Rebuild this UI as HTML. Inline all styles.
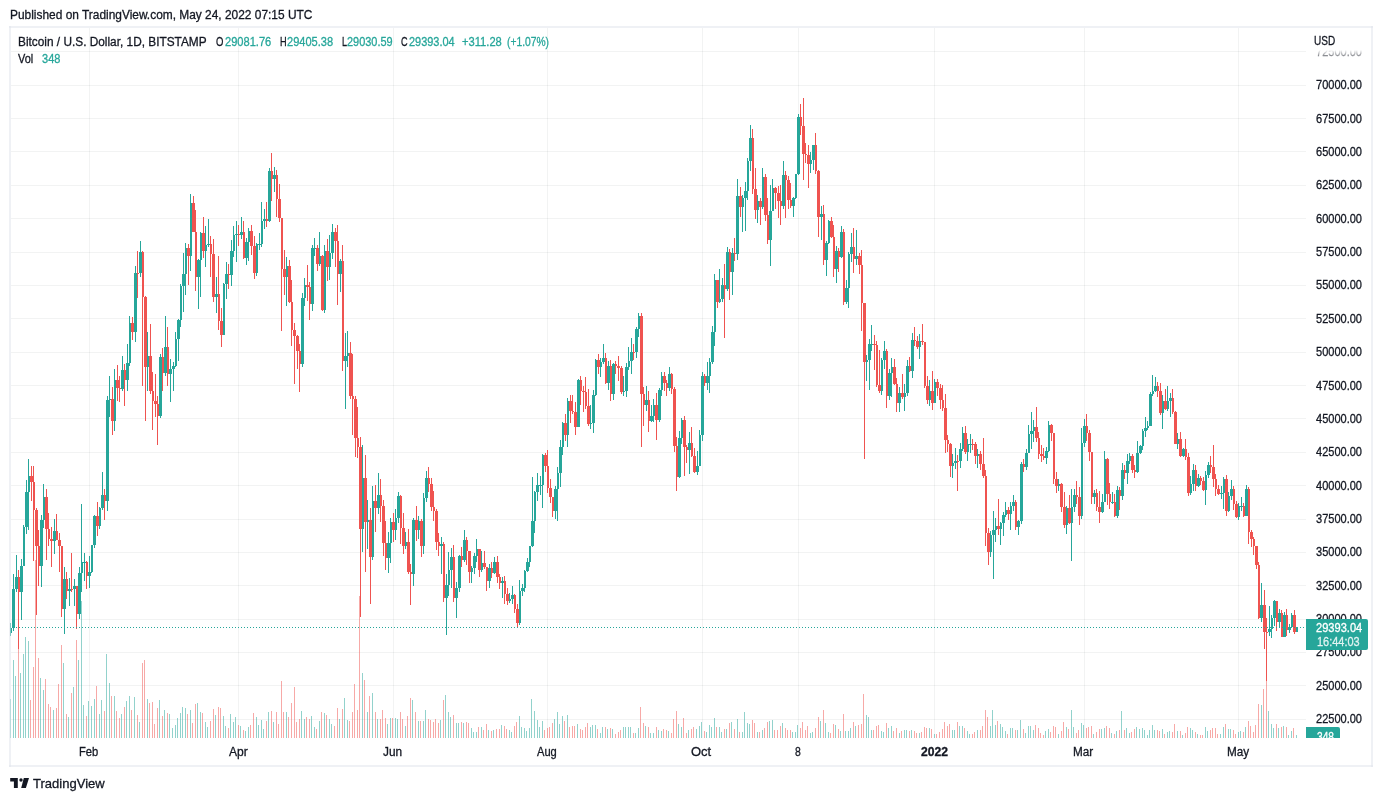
<!DOCTYPE html><html lang="en"><head><meta charset="utf-8"><title>BTCUSD chart</title><style>
html,body{margin:0;padding:0;background:#fff}
body{width:1382px;height:801px;position:relative;overflow:hidden;font-family:"Liberation Sans",sans-serif;color:#131722}
.t{position:absolute;white-space:pre;line-height:1;transform-origin:0 0;-webkit-text-stroke:0.3px currentColor}
.box{position:absolute;background:#26a69a;overflow:hidden}
</style></head><body>
<svg width="1382" height="801" viewBox="0 0 1382 801" shape-rendering="crispEdges" style="position:absolute;left:0;top:0">
<g fill="#2a3a34" fill-opacity="0.06">
<rect x="11" y="719" width="1295" height="1"/>
<rect x="11" y="685" width="1295" height="1"/>
<rect x="11" y="652" width="1295" height="1"/>
<rect x="11" y="619" width="1295" height="1"/>
<rect x="11" y="585" width="1295" height="1"/>
<rect x="11" y="552" width="1295" height="1"/>
<rect x="11" y="519" width="1295" height="1"/>
<rect x="11" y="485" width="1295" height="1"/>
<rect x="11" y="452" width="1295" height="1"/>
<rect x="11" y="418" width="1295" height="1"/>
<rect x="11" y="385" width="1295" height="1"/>
<rect x="11" y="352" width="1295" height="1"/>
<rect x="11" y="318" width="1295" height="1"/>
<rect x="11" y="285" width="1295" height="1"/>
<rect x="11" y="252" width="1295" height="1"/>
<rect x="11" y="218" width="1295" height="1"/>
<rect x="11" y="185" width="1295" height="1"/>
<rect x="11" y="151" width="1295" height="1"/>
<rect x="11" y="118" width="1295" height="1"/>
<rect x="11" y="85" width="1295" height="1"/>
<rect x="11" y="51" width="1295" height="1"/>
<rect x="89" y="28" width="1" height="710"/>
<rect x="238" y="28" width="1" height="710"/>
<rect x="393" y="28" width="1" height="710"/>
<rect x="547" y="28" width="1" height="710"/>
<rect x="702" y="28" width="1" height="710"/>
<rect x="798" y="28" width="1" height="710"/>
<rect x="934" y="28" width="1" height="710"/>
<rect x="1084" y="28" width="1" height="710"/>
<rect x="1238" y="28" width="1" height="710"/>
</g>
<clipPath id="cp"><rect x="10" y="28" width="1296" height="710"/></clipPath>
<g clip-path="url(#cp)">
<path fill="#26a69a" fill-opacity="0.5" d="M10 699h1V738h-1zM13 660h1V738h-1zM15 676h1V738h-1zM20 673h1V738h-1zM23 654h1V738h-1zM25 637h1V738h-1zM28 641h1V738h-1zM40 678h1V738h-1zM43 690h1V738h-1zM53 710h1V738h-1zM63 663h1V738h-1zM68 717h1V738h-1zM73 687h1V738h-1zM78 660h1V738h-1zM81 601h1V738h-1zM83 705h1V738h-1zM88 701h1V738h-1zM91 706h1V738h-1zM94 699h1V738h-1zM99 714h1V738h-1zM101 700h1V738h-1zM106 654h1V738h-1zM109 683h1V738h-1zM114 696h1V738h-1zM121 714h1V738h-1zM126 701h1V738h-1zM129 696h1V738h-1zM134 697h1V738h-1zM139 722h1V738h-1zM147 699h1V738h-1zM159 700h1V738h-1zM164 710h1V738h-1zM169 714h1V738h-1zM172 728h1V738h-1zM175 725h1V738h-1zM177 718h1V738h-1zM180 713h1V738h-1zM182 707h1V738h-1zM185 708h1V738h-1zM190 710h1V738h-1zM197 703h1V738h-1zM200 712h1V738h-1zM205 722h1V738h-1zM207 727h1V738h-1zM215 715h1V738h-1zM223 716h1V738h-1zM225 726h1V738h-1zM230 714h1V738h-1zM233 722h1V738h-1zM235 717h1V738h-1zM240 726h1V738h-1zM245 731h1V738h-1zM248 727h1V738h-1zM256 717h1V738h-1zM258 725h1V738h-1zM261 720h1V738h-1zM263 729h1V738h-1zM268 712h1V738h-1zM273 722h1V738h-1zM286 712h1V738h-1zM301 711h1V738h-1zM304 719h1V738h-1zM311 716h1V738h-1zM314 727h1V738h-1zM319 721h1V738h-1zM324 713h1V738h-1zM329 719h1V738h-1zM331 724h1V738h-1zM339 719h1V738h-1zM344 698h1V738h-1zM347 720h1V738h-1zM362 673h1V738h-1zM367 712h1V738h-1zM372 693h1V738h-1zM377 719h1V738h-1zM387 724h1V738h-1zM390 718h1V738h-1zM395 718h1V738h-1zM397 719h1V738h-1zM405 726h1V738h-1zM412 700h1V738h-1zM418 721h1V738h-1zM423 721h1V738h-1zM425 710h1V738h-1zM440 720h1V738h-1zM445 695h1V738h-1zM448 712h1V738h-1zM450 717h1V738h-1zM456 723h1V738h-1zM458 723h1V738h-1zM463 723h1V738h-1zM471 728h1V738h-1zM473 732h1V738h-1zM476 732h1V738h-1zM481 727h1V738h-1zM488 730h1V738h-1zM493 730h1V738h-1zM501 725h1V738h-1zM509 730h1V738h-1zM511 732h1V738h-1zM519 716h1V738h-1zM521 727h1V738h-1zM524 728h1V738h-1zM526 731h1V738h-1zM529 728h1V738h-1zM531 699h1V738h-1zM534 711h1V738h-1zM537 720h1V738h-1zM539 727h1V738h-1zM542 721h1V738h-1zM554 719h1V738h-1zM557 712h1V738h-1zM559 724h1V738h-1zM562 716h1V738h-1zM567 715h1V738h-1zM577 724h1V738h-1zM590 727h1V738h-1zM592 725h1V738h-1zM595 725h1V738h-1zM600 733h1V738h-1zM602 727h1V738h-1zM607 729h1V738h-1zM612 729h1V738h-1zM623 727h1V738h-1zM625 727h1V738h-1zM628 727h1V738h-1zM630 727h1V738h-1zM635 733h1V738h-1zM638 728h1V738h-1zM645 726h1V738h-1zM650 733h1V738h-1zM653 733h1V738h-1zM658 730h1V738h-1zM661 731h1V738h-1zM668 731h1V738h-1zM678 724h1V738h-1zM681 727h1V738h-1zM688 730h1V738h-1zM696 729h1V738h-1zM699 726h1V738h-1zM701 722h1V738h-1zM706 732h1V738h-1zM709 725h1V738h-1zM711 727h1V738h-1zM714 718h1V738h-1zM719 727h1V738h-1zM721 732h1V738h-1zM726 729h1V738h-1zM731 722h1V738h-1zM737 719h1V738h-1zM742 732h1V738h-1zM744 712h1V738h-1zM747 723h1V738h-1zM749 724h1V738h-1zM757 732h1V738h-1zM762 730h1V738h-1zM769 721h1V738h-1zM772 720h1V738h-1zM782 723h1V738h-1zM792 732h1V738h-1zM795 732h1V738h-1zM797 725h1V738h-1zM810 733h1V738h-1zM812 732h1V738h-1zM820 721h1V738h-1zM825 723h1V738h-1zM828 732h1V738h-1zM835 725h1V738h-1zM840 731h1V738h-1zM845 731h1V738h-1zM848 731h1V738h-1zM850 728h1V738h-1zM855 726h1V738h-1zM866 715h1V738h-1zM868 717h1V738h-1zM871 730h1V738h-1zM881 731h1V738h-1zM883 732h1V738h-1zM888 728h1V738h-1zM891 726h1V738h-1zM899 733h1V738h-1zM904 730h1V738h-1zM906 730h1V738h-1zM911 730h1V738h-1zM919 733h1V738h-1zM929 728h1V738h-1zM934 734h1V738h-1zM952 730h1V738h-1zM954 730h1V738h-1zM959 726h1V738h-1zM962 726h1V738h-1zM967 731h1V738h-1zM969 734h1V738h-1zM977 730h1V738h-1zM990 726h1V738h-1zM992 710h1V738h-1zM995 725h1V738h-1zM1000 724h1V738h-1zM1002 727h1V738h-1zM1005 731h1V738h-1zM1010 728h1V738h-1zM1012 728h1V738h-1zM1017 730h1V738h-1zM1020 720h1V738h-1zM1025 733h1V738h-1zM1028 726h1V738h-1zM1030 726h1V738h-1zM1033 730h1V738h-1zM1045 731h1V738h-1zM1048 729h1V738h-1zM1058 734h1V738h-1zM1066 727h1V738h-1zM1071 710h1V738h-1zM1073 727h1V738h-1zM1081 723h1V738h-1zM1083 725h1V738h-1zM1093 734h1V738h-1zM1101 729h1V738h-1zM1104 728h1V738h-1zM1111 733h1V738h-1zM1116 731h1V738h-1zM1121 711h1V738h-1zM1126 728h1V738h-1zM1129 733h1V738h-1zM1136 727h1V738h-1zM1139 729h1V738h-1zM1142 728h1V738h-1zM1144 730h1V738h-1zM1147 735h1V738h-1zM1149 730h1V738h-1zM1152 725h1V738h-1zM1154 730h1V738h-1zM1162 729h1V738h-1zM1167 732h1V738h-1zM1169 731h1V738h-1zM1177 731h1V738h-1zM1182 735h1V738h-1zM1190 728h1V738h-1zM1192 730h1V738h-1zM1197 734h1V738h-1zM1205 727h1V738h-1zM1207 731h1V738h-1zM1220 734h1V738h-1zM1223 727h1V738h-1zM1228 729h1V738h-1zM1230 729h1V738h-1zM1238 732h1V738h-1zM1240 731h1V738h-1zM1245 727h1V738h-1zM1261 705h1V738h-1zM1268 711h1V738h-1zM1271 724h1V738h-1zM1273 728h1V738h-1zM1278 728h1V738h-1zM1283 726h1V738h-1zM1288 735h1V738h-1zM1291 731h1V738h-1zM1296 735h1V738h-1z"/>
<path fill="#ef5350" fill-opacity="0.5" d="M18 644h1V738h-1zM30 700h1V738h-1zM33 667h1V738h-1zM35 560h1V738h-1zM38 658h1V738h-1zM45 679h1V738h-1zM48 704h1V738h-1zM50 707h1V738h-1zM56 708h1V738h-1zM58 684h1V738h-1zM61 645h1V738h-1zM66 714h1V738h-1zM71 693h1V738h-1zM76 640h1V738h-1zM86 716h1V738h-1zM96 686h1V738h-1zM104 711h1V738h-1zM111 696h1V738h-1zM116 711h1V738h-1zM119 718h1V738h-1zM124 707h1V738h-1zM131 710h1V738h-1zM137 715h1V738h-1zM142 663h1V738h-1zM144 660h1V738h-1zM149 703h1V738h-1zM152 702h1V738h-1zM154 724h1V738h-1zM157 708h1V738h-1zM162 716h1V738h-1zM167 713h1V738h-1zM187 714h1V738h-1zM192 723h1V738h-1zM195 704h1V738h-1zM202 713h1V738h-1zM210 721h1V738h-1zM213 709h1V738h-1zM218 707h1V738h-1zM220 708h1V738h-1zM228 728h1V738h-1zM238 725h1V738h-1zM243 730h1V738h-1zM250 725h1V738h-1zM253 713h1V738h-1zM266 721h1V738h-1zM271 711h1V738h-1zM276 712h1V738h-1zM278 724h1V738h-1zM281 681h1V738h-1zM283 712h1V738h-1zM288 717h1V738h-1zM291 703h1V738h-1zM294 687h1V738h-1zM296 722h1V738h-1zM299 719h1V738h-1zM306 717h1V738h-1zM309 719h1V738h-1zM316 729h1V738h-1zM321 712h1V738h-1zM326 715h1V738h-1zM334 726h1V738h-1zM337 708h1V738h-1zM342 709h1V738h-1zM349 721h1V738h-1zM352 712h1V738h-1zM354 684h1V738h-1zM357 710h1V738h-1zM359 596h1V738h-1zM364 680h1V738h-1zM369 696h1V738h-1zM375 712h1V738h-1zM380 719h1V738h-1zM382 710h1V738h-1zM385 718h1V738h-1zM392 718h1V738h-1zM400 712h1V738h-1zM402 719h1V738h-1zM407 716h1V738h-1zM410 698h1V738h-1zM415 712h1V738h-1zM420 721h1V738h-1zM428 719h1V738h-1zM430 720h1V738h-1zM433 722h1V738h-1zM435 719h1V738h-1zM438 723h1V738h-1zM443 700h1V738h-1zM453 715h1V738h-1zM461 722h1V738h-1zM466 722h1V738h-1zM468 723h1V738h-1zM478 727h1V738h-1zM483 730h1V738h-1zM486 724h1V738h-1zM491 731h1V738h-1zM496 729h1V738h-1zM499 729h1V738h-1zM504 726h1V738h-1zM506 729h1V738h-1zM514 726h1V738h-1zM516 722h1V738h-1zM544 730h1V738h-1zM547 728h1V738h-1zM549 727h1V738h-1zM552 723h1V738h-1zM564 721h1V738h-1zM569 727h1V738h-1zM572 726h1V738h-1zM574 726h1V738h-1zM580 729h1V738h-1zM582 730h1V738h-1zM585 727h1V738h-1zM587 723h1V738h-1zM597 729h1V738h-1zM605 727h1V738h-1zM610 728h1V738h-1zM615 734h1V738h-1zM618 732h1V738h-1zM620 730h1V738h-1zM633 733h1V738h-1zM640 707h1V738h-1zM643 723h1V738h-1zM648 727h1V738h-1zM656 727h1V738h-1zM663 729h1V738h-1zM666 730h1V738h-1zM671 733h1V738h-1zM673 719h1V738h-1zM676 711h1V738h-1zM683 718h1V738h-1zM686 733h1V738h-1zM691 729h1V738h-1zM693 727h1V738h-1zM704 731h1V738h-1zM716 727h1V738h-1zM724 729h1V738h-1zM729 723h1V738h-1zM734 729h1V738h-1zM739 732h1V738h-1zM752 720h1V738h-1zM754 723h1V738h-1zM759 732h1V738h-1zM764 728h1V738h-1zM767 722h1V738h-1zM774 730h1V738h-1zM777 730h1V738h-1zM780 726h1V738h-1zM785 728h1V738h-1zM787 730h1V738h-1zM790 730h1V738h-1zM800 728h1V738h-1zM802 722h1V738h-1zM805 730h1V738h-1zM807 726h1V738h-1zM815 728h1V738h-1zM818 717h1V738h-1zM823 710h1V738h-1zM830 733h1V738h-1zM833 724h1V738h-1zM838 729h1V738h-1zM843 714h1V738h-1zM853 722h1V738h-1zM858 725h1V738h-1zM861 724h1V738h-1zM863 694h1V738h-1zM873 730h1V738h-1zM876 726h1V738h-1zM878 725h1V738h-1zM886 723h1V738h-1zM893 731h1V738h-1zM896 728h1V738h-1zM901 731h1V738h-1zM909 731h1V738h-1zM914 731h1V738h-1zM916 733h1V738h-1zM921 732h1V738h-1zM924 727h1V738h-1zM926 728h1V738h-1zM931 729h1V738h-1zM936 734h1V738h-1zM939 732h1V738h-1zM942 729h1V738h-1zM944 722h1V738h-1zM947 726h1V738h-1zM949 724h1V738h-1zM957 722h1V738h-1zM964 728h1V738h-1zM972 734h1V738h-1zM974 732h1V738h-1zM980 730h1V738h-1zM982 726h1V738h-1zM985 710h1V738h-1zM987 717h1V738h-1zM997 721h1V738h-1zM1007 734h1V738h-1zM1015 730h1V738h-1zM1023 729h1V738h-1zM1035 725h1V738h-1zM1038 728h1V738h-1zM1040 733h1V738h-1zM1043 735h1V738h-1zM1050 732h1V738h-1zM1053 726h1V738h-1zM1055 727h1V738h-1zM1061 731h1V738h-1zM1063 722h1V738h-1zM1068 729h1V738h-1zM1076 733h1V738h-1zM1078 730h1V738h-1zM1086 728h1V738h-1zM1088 727h1V738h-1zM1091 726h1V738h-1zM1096 732h1V738h-1zM1099 729h1V738h-1zM1106 726h1V738h-1zM1109 728h1V738h-1zM1114 734h1V738h-1zM1119 730h1V738h-1zM1124 730h1V738h-1zM1131 732h1V738h-1zM1134 729h1V738h-1zM1157 730h1V738h-1zM1159 731h1V738h-1zM1164 734h1V738h-1zM1172 732h1V738h-1zM1174 724h1V738h-1zM1180 731h1V738h-1zM1185 733h1V738h-1zM1187 727h1V738h-1zM1195 732h1V738h-1zM1200 735h1V738h-1zM1202 735h1V738h-1zM1210 730h1V738h-1zM1212 728h1V738h-1zM1215 728h1V738h-1zM1217 734h1V738h-1zM1225 724h1V738h-1zM1233 730h1V738h-1zM1235 734h1V738h-1zM1243 732h1V738h-1zM1248 721h1V738h-1zM1250 726h1V738h-1zM1253 732h1V738h-1zM1255 725h1V738h-1zM1258 704h1V738h-1zM1263 689h1V738h-1zM1266 672h1V738h-1zM1276 724h1V738h-1zM1281 727h1V738h-1zM1286 727h1V738h-1zM1293 728h1V738h-1z"/>
<path fill="#26a69a" d="M10 623h1V636h-1zM13 574h1V631h-1zM16 555h1V592h-1zM21 559h1V620h-1zM23 525h1V566h-1zM26 480h1V534h-1zM28 459h1V530h-1zM41 515h1V587h-1zM43 484h1V528h-1zM54 519h1V554h-1zM64 567h1V634h-1zM69 578h1V606h-1zM74 579h1V606h-1zM79 567h1V619h-1zM81 504h1V592h-1zM84 553h1V581h-1zM89 556h1V588h-1zM91 545h1V573h-1zM94 515h1V548h-1zM99 507h1V529h-1zM102 472h1V510h-1zM107 396h1V511h-1zM109 376h1V417h-1zM114 369h1V431h-1zM122 356h1V391h-1zM127 344h1V391h-1zM129 316h1V366h-1zM135 266h1V342h-1zM140 241h1V277h-1zM147 332h1V391h-1zM160 354h1V418h-1zM165 316h1V376h-1zM170 359h1V402h-1zM173 362h1V391h-1zM175 332h1V367h-1zM178 319h1V361h-1zM180 284h1V327h-1zM183 253h1V312h-1zM185 243h1V295h-1zM190 194h1V271h-1zM198 259h1V309h-1zM200 232h1V297h-1zM205 226h1V267h-1zM208 219h1V247h-1zM216 277h1V313h-1zM223 283h1V335h-1zM226 262h1V299h-1zM231 240h1V286h-1zM233 226h1V257h-1zM236 221h1V262h-1zM241 217h1V239h-1zM246 238h1V265h-1zM248 228h1V261h-1zM256 243h1V276h-1zM259 233h1V250h-1zM261 202h1V247h-1zM264 209h1V229h-1zM269 168h1V222h-1zM274 167h1V192h-1zM286 257h1V306h-1zM302 293h1V367h-1zM304 278h1V306h-1zM312 245h1V311h-1zM314 238h1V256h-1zM319 232h1V266h-1zM324 245h1V313h-1zM329 235h1V280h-1zM332 224h1V259h-1zM340 259h1V292h-1zM345 333h1V409h-1zM347 331h1V367h-1zM362 445h1V552h-1zM367 500h1V549h-1zM372 486h1V560h-1zM378 473h1V514h-1zM388 532h1V573h-1zM390 518h1V563h-1zM395 509h1V540h-1zM398 492h1V523h-1zM405 532h1V549h-1zM413 518h1V586h-1zM418 516h1V539h-1zM423 493h1V554h-1zM426 471h1V502h-1zM441 537h1V574h-1zM446 574h1V635h-1zM448 552h1V596h-1zM451 548h1V588h-1zM456 582h1V618h-1zM459 555h1V592h-1zM464 530h1V562h-1zM471 566h1V583h-1zM474 553h1V574h-1zM476 539h1V562h-1zM481 551h1V572h-1zM489 564h1V588h-1zM494 557h1V574h-1zM502 577h1V598h-1zM509 593h1V603h-1zM512 586h1V604h-1zM519 580h1V625h-1zM522 584h1V596h-1zM524 570h1V592h-1zM527 558h1V572h-1zM529 546h1V567h-1zM532 477h1V547h-1zM534 491h1V533h-1zM537 473h1V501h-1zM540 476h1V495h-1zM542 454h1V508h-1zM555 486h1V519h-1zM557 467h1V521h-1zM560 440h1V487h-1zM562 422h1V455h-1zM567 398h1V447h-1zM578 379h1V427h-1zM590 405h1V429h-1zM593 390h1V433h-1zM595 359h1V396h-1zM600 358h1V377h-1zM603 344h1V364h-1zM608 361h1V390h-1zM613 363h1V400h-1zM623 376h1V396h-1zM626 363h1V397h-1zM628 347h1V370h-1zM631 338h1V374h-1zM636 327h1V358h-1zM638 313h1V337h-1zM646 386h1V411h-1zM651 405h1V422h-1zM653 399h1V422h-1zM659 388h1V422h-1zM661 372h1V396h-1zM669 367h1V391h-1zM679 431h1V478h-1zM681 418h1V444h-1zM689 432h1V474h-1zM697 451h1V475h-1zM699 430h1V466h-1zM702 372h1V441h-1zM707 362h1V390h-1zM709 358h1V393h-1zM712 326h1V364h-1zM714 274h1V346h-1zM719 269h1V303h-1zM722 278h1V302h-1zM727 247h1V291h-1zM732 248h1V295h-1zM737 179h1V260h-1zM742 195h1V232h-1zM745 182h1V231h-1zM747 158h1V200h-1zM750 125h1V171h-1zM757 195h1V223h-1zM762 168h1V209h-1zM770 185h1V266h-1zM772 179h1V211h-1zM783 161h1V209h-1zM793 197h1V217h-1zM795 174h1V199h-1zM798 114h1V175h-1zM810 152h1V173h-1zM813 145h1V170h-1zM821 206h1V240h-1zM826 241h1V276h-1zM828 220h1V244h-1zM836 246h1V283h-1zM841 226h1V258h-1zM846 280h1V304h-1zM848 252h1V308h-1zM851 233h1V262h-1zM856 230h1V265h-1zM866 355h1V381h-1zM869 339h1V390h-1zM871 325h1V351h-1zM881 358h1V395h-1zM884 341h1V369h-1zM889 369h1V400h-1zM891 358h1V397h-1zM899 387h1V412h-1zM904 384h1V411h-1zM907 360h1V396h-1zM912 333h1V378h-1zM919 334h1V359h-1zM929 380h1V406h-1zM934 379h1V403h-1zM952 454h1V478h-1zM955 448h1V469h-1zM960 443h1V468h-1zM962 427h1V451h-1zM967 439h1V461h-1zM970 434h1V453h-1zM977 449h1V468h-1zM990 531h1V557h-1zM993 511h1V579h-1zM995 518h1V542h-1zM1000 522h1V545h-1zM1003 512h1V536h-1zM1005 502h1V517h-1zM1010 502h1V530h-1zM1013 495h1V511h-1zM1018 520h1V535h-1zM1021 462h1V524h-1zM1026 449h1V470h-1zM1028 425h1V453h-1zM1031 412h1V449h-1zM1033 420h1V442h-1zM1046 447h1V464h-1zM1048 421h1V452h-1zM1058 479h1V491h-1zM1066 506h1V534h-1zM1071 489h1V561h-1zM1074 489h1V512h-1zM1081 428h1V519h-1zM1084 419h1V447h-1zM1094 490h1V504h-1zM1102 494h1V513h-1zM1104 451h1V502h-1zM1112 492h1V504h-1zM1117 486h1V518h-1zM1122 463h1V500h-1zM1127 454h1V484h-1zM1129 453h1V464h-1zM1137 441h1V473h-1zM1140 445h1V454h-1zM1142 429h1V450h-1zM1145 417h1V437h-1zM1147 421h1V430h-1zM1150 392h1V426h-1zM1152 375h1V396h-1zM1155 377h1V392h-1zM1162 395h1V429h-1zM1167 386h1V411h-1zM1170 393h1V417h-1zM1177 433h1V449h-1zM1183 448h1V457h-1zM1190 476h1V495h-1zM1193 464h1V491h-1zM1198 474h1V487h-1zM1205 471h1V505h-1zM1208 462h1V478h-1zM1221 486h1V499h-1zM1223 477h1V509h-1zM1228 492h1V512h-1zM1231 480h1V500h-1zM1238 503h1V520h-1zM1241 497h1V511h-1zM1246 485h1V516h-1zM1261 583h1V622h-1zM1269 606h1V636h-1zM1271 615h1V638h-1zM1274 600h1V626h-1zM1279 609h1V628h-1zM1284 612h1V637h-1zM1289 624h1V633h-1zM1291 613h1V627h-1zM1296 627h1V632h-1z"/>
<path fill="#ef5350" d="M18 570h1V649h-1zM31 466h1V501h-1zM33 466h1V561h-1zM36 508h1V615h-1zM38 530h1V586h-1zM46 489h1V560h-1zM48 513h1V546h-1zM51 527h1V567h-1zM56 514h1V540h-1zM59 533h1V572h-1zM61 546h1V617h-1zM66 572h1V599h-1zM71 553h1V592h-1zM76 586h1V629h-1zM86 561h1V589h-1zM97 502h1V536h-1zM104 489h1V520h-1zM112 387h1V435h-1zM117 365h1V401h-1zM119 376h1V402h-1zM124 364h1V406h-1zM132 317h1V340h-1zM137 251h1V298h-1zM142 251h1V386h-1zM145 296h1V421h-1zM150 324h1V394h-1zM152 372h1V430h-1zM155 374h1V417h-1zM157 396h1V445h-1zM162 348h1V391h-1zM167 327h1V386h-1zM188 244h1V285h-1zM193 196h1V232h-1zM195 210h1V291h-1zM203 217h1V258h-1zM210 236h1V277h-1zM213 239h1V302h-1zM218 256h1V330h-1zM221 308h1V347h-1zM228 264h1V289h-1zM238 225h1V246h-1zM243 221h1V259h-1zM251 225h1V255h-1zM254 236h1V279h-1zM266 202h1V227h-1zM271 153h1V201h-1zM276 170h1V217h-1zM279 184h1V222h-1zM281 218h1V331h-1zM284 250h1V295h-1zM289 260h1V303h-1zM291 280h1V346h-1zM294 323h1V384h-1zM297 335h1V369h-1zM299 344h1V392h-1zM307 265h1V301h-1zM309 282h1V320h-1zM317 245h1V271h-1zM322 255h1V311h-1zM327 239h1V281h-1zM335 228h1V267h-1zM337 225h1V305h-1zM342 245h1V371h-1zM350 342h1V399h-1zM352 354h1V435h-1zM355 396h1V457h-1zM357 407h1V458h-1zM360 437h1V617h-1zM365 455h1V572h-1zM370 508h1V604h-1zM375 485h1V532h-1zM380 479h1V522h-1zM383 500h1V556h-1zM385 521h1V570h-1zM393 513h1V542h-1zM400 495h1V544h-1zM403 513h1V554h-1zM408 529h1V574h-1zM410 564h1V605h-1zM416 506h1V541h-1zM421 519h1V557h-1zM428 467h1V492h-1zM431 478h1V511h-1zM433 491h1V521h-1zM436 509h1V550h-1zM438 533h1V556h-1zM443 542h1V602h-1zM453 545h1V602h-1zM461 547h1V567h-1zM466 537h1V565h-1zM469 551h1V583h-1zM479 549h1V577h-1zM484 551h1V569h-1zM486 567h1V591h-1zM491 562h1V578h-1zM497 556h1V583h-1zM499 574h1V589h-1zM504 576h1V604h-1zM507 588h1V605h-1zM514 594h1V613h-1zM517 604h1V627h-1zM545 453h1V472h-1zM547 450h1V493h-1zM550 479h1V503h-1zM552 497h1V517h-1zM565 414h1V441h-1zM570 395h1V423h-1zM572 395h1V414h-1zM575 402h1V435h-1zM580 376h1V405h-1zM583 386h1V412h-1zM585 377h1V409h-1zM588 389h1V426h-1zM598 354h1V374h-1zM605 353h1V384h-1zM610 360h1V401h-1zM615 361h1V374h-1zM618 356h1V381h-1zM621 366h1V394h-1zM633 344h1V360h-1zM641 313h1V447h-1zM643 387h1V426h-1zM648 391h1V432h-1zM656 393h1V440h-1zM664 372h1V391h-1zM666 380h1V396h-1zM671 373h1V394h-1zM674 387h1V452h-1zM676 437h1V491h-1zM684 416h1V476h-1zM686 445h1V463h-1zM691 427h1V457h-1zM694 448h1V473h-1zM704 374h1V386h-1zM717 280h1V308h-1zM724 264h1V338h-1zM729 249h1V300h-1zM734 238h1V261h-1zM740 187h1V217h-1zM752 129h1V194h-1zM755 168h1V219h-1zM760 198h1V225h-1zM765 174h1V221h-1zM767 198h1V244h-1zM775 187h1V209h-1zM778 186h1V218h-1zM780 185h1V225h-1zM785 171h1V218h-1zM788 176h1V209h-1zM790 183h1V208h-1zM800 104h1V135h-1zM803 98h1V180h-1zM805 143h1V163h-1zM808 145h1V188h-1zM815 133h1V174h-1zM818 170h1V237h-1zM823 205h1V265h-1zM831 217h1V238h-1zM833 225h1V277h-1zM838 248h1V272h-1zM843 229h1V305h-1zM853 228h1V273h-1zM859 253h1V274h-1zM861 250h1V331h-1zM864 303h1V459h-1zM874 335h1V370h-1zM876 341h1V387h-1zM879 350h1V393h-1zM886 349h1V408h-1zM894 359h1V385h-1zM896 378h1V412h-1zM902 374h1V399h-1zM909 357h1V372h-1zM914 327h1V346h-1zM917 336h1V349h-1zM922 324h1V345h-1zM924 342h1V388h-1zM927 376h1V404h-1zM932 371h1V410h-1zM937 379h1V396h-1zM940 384h1V409h-1zM942 385h1V411h-1zM945 394h1V453h-1zM947 435h1V452h-1zM950 443h1V477h-1zM957 455h1V491h-1zM965 426h1V454h-1zM972 439h1V450h-1zM975 442h1V464h-1zM980 451h1V470h-1zM983 438h1V478h-1zM985 470h1V546h-1zM988 528h1V565h-1zM998 499h1V535h-1zM1008 507h1V520h-1zM1015 500h1V530h-1zM1023 459h1V472h-1zM1036 407h1V442h-1zM1038 432h1V459h-1zM1041 445h1V462h-1zM1043 448h1V460h-1zM1051 424h1V441h-1zM1053 433h1V484h-1zM1056 472h1V493h-1zM1061 483h1V512h-1zM1064 492h1V528h-1zM1069 495h1V524h-1zM1076 481h1V504h-1zM1079 487h1V525h-1zM1086 414h1V441h-1zM1089 430h1V461h-1zM1091 452h1V504h-1zM1096 489h1V511h-1zM1099 491h1V523h-1zM1107 458h1V505h-1zM1109 483h1V509h-1zM1114 494h1V517h-1zM1119 487h1V510h-1zM1124 465h1V479h-1zM1132 454h1V473h-1zM1134 465h1V478h-1zM1157 382h1V397h-1zM1160 383h1V415h-1zM1165 389h1V410h-1zM1172 389h1V414h-1zM1175 411h1V444h-1zM1180 432h1V457h-1zM1185 439h1V460h-1zM1188 453h1V496h-1zM1195 465h1V491h-1zM1200 476h1V485h-1zM1203 477h1V491h-1zM1210 456h1V473h-1zM1213 445h1V487h-1zM1215 474h1V496h-1zM1218 485h1V495h-1zM1226 475h1V516h-1zM1233 486h1V510h-1zM1236 501h1V518h-1zM1243 503h1V517h-1zM1248 487h1V544h-1zM1251 530h1V547h-1zM1253 537h1V555h-1zM1256 546h1V569h-1zM1258 562h1V619h-1zM1264 590h1V649h-1zM1266 618h1V681h-1zM1276 601h1V631h-1zM1281 610h1V637h-1zM1286 609h1V636h-1zM1294 610h1V634h-1z"/>
<path fill="#26a69a" d="M9 628h3V633h-3zM12 589h3V628h-3zM15 577h3V589h-3z"/>
<path fill="#ef5350" d="M18 577h2V592h-2z"/>
<path fill="#26a69a" d="M20 566h3V592h-3zM23 527h2V566h-2zM25 492h3V527h-3zM28 476h2V492h-2z"/>
<path fill="#ef5350" d="M30 476h3V482h-3zM33 482h2V510h-2zM35 510h3V546h-3zM38 546h2V566h-2z"/>
<path fill="#26a69a" d="M40 520h3V566h-3zM43 497h2V520h-2z"/>
<path fill="#ef5350" d="M45 497h3V529h-3zM48 529h2V539h-2zM50 539h3V541h-3z"/>
<path fill="#26a69a" d="M53 531h3V541h-3z"/>
<path fill="#ef5350" d="M56 531h2V540h-2zM58 540h3V546h-3zM61 546h2V609h-2z"/>
<path fill="#26a69a" d="M63 579h3V609h-3z"/>
<path fill="#ef5350" d="M66 579h2V591h-2z"/>
<path fill="#26a69a" d="M68 589h3V591h-3z"/>
<path fill="#ef5350" d="M71 589h2V590h-2z"/>
<path fill="#26a69a" d="M73 586h3V589h-3z"/>
<path fill="#ef5350" d="M76 586h2V614h-2z"/>
<path fill="#26a69a" d="M78 573h3V614h-3zM81 562h2V573h-2zM83 562h3V563h-3z"/>
<path fill="#ef5350" d="M86 562h2V576h-2z"/>
<path fill="#26a69a" d="M88 572h3V576h-3zM91 545h2V572h-2zM93 516h3V545h-3z"/>
<path fill="#ef5350" d="M96 516h3V526h-3z"/>
<path fill="#26a69a" d="M99 508h2V526h-2zM101 495h3V508h-3z"/>
<path fill="#ef5350" d="M104 495h2V501h-2z"/>
<path fill="#26a69a" d="M106 400h3V501h-3zM109 399h2V400h-2z"/>
<path fill="#ef5350" d="M111 399h3V421h-3z"/>
<path fill="#26a69a" d="M114 380h2V421h-2z"/>
<path fill="#ef5350" d="M116 380h3V388h-3zM119 388h2V389h-2z"/>
<path fill="#26a69a" d="M121 370h3V389h-3z"/>
<path fill="#ef5350" d="M124 370h2V380h-2z"/>
<path fill="#26a69a" d="M126 363h3V380h-3zM129 323h2V363h-2z"/>
<path fill="#ef5350" d="M131 323h3V332h-3z"/>
<path fill="#26a69a" d="M134 273h3V332h-3z"/>
<path fill="#ef5350" d="M137 273h2V274h-2z"/>
<path fill="#26a69a" d="M139 252h3V273h-3z"/>
<path fill="#ef5350" d="M142 252h2V297h-2zM144 297h3V367h-3z"/>
<path fill="#26a69a" d="M147 356h2V367h-2z"/>
<path fill="#ef5350" d="M149 356h3V391h-3zM152 391h2V401h-2zM154 401h3V404h-3zM157 404h2V416h-2z"/>
<path fill="#26a69a" d="M159 357h3V416h-3z"/>
<path fill="#ef5350" d="M162 357h2V373h-2z"/>
<path fill="#26a69a" d="M164 347h3V373h-3z"/>
<path fill="#ef5350" d="M167 347h2V374h-2z"/>
<path fill="#26a69a" d="M169 369h3V374h-3zM172 366h3V369h-3zM175 339h2V366h-2zM177 320h3V339h-3zM180 286h2V320h-2zM182 274h3V286h-3zM185 248h2V274h-2z"/>
<path fill="#ef5350" d="M187 248h3V256h-3z"/>
<path fill="#26a69a" d="M190 203h2V256h-2z"/>
<path fill="#ef5350" d="M192 203h3V232h-3zM195 232h2V277h-2z"/>
<path fill="#26a69a" d="M197 260h3V277h-3zM200 233h2V260h-2z"/>
<path fill="#ef5350" d="M202 233h3V251h-3z"/>
<path fill="#26a69a" d="M205 245h2V251h-2zM207 244h3V245h-3z"/>
<path fill="#ef5350" d="M210 244h2V254h-2zM212 254h3V297h-3z"/>
<path fill="#26a69a" d="M215 294h3V297h-3z"/>
<path fill="#ef5350" d="M218 294h2V321h-2zM220 321h3V335h-3z"/>
<path fill="#26a69a" d="M223 284h2V335h-2zM225 274h3V284h-3z"/>
<path fill="#ef5350" d="M228 274h2V275h-2z"/>
<path fill="#26a69a" d="M230 251h3V275h-3zM233 235h2V251h-2zM235 234h3V235h-3z"/>
<path fill="#ef5350" d="M238 234h2V235h-2z"/>
<path fill="#26a69a" d="M240 232h3V235h-3z"/>
<path fill="#ef5350" d="M243 232h2V258h-2z"/>
<path fill="#26a69a" d="M245 242h3V258h-3zM248 231h2V242h-2z"/>
<path fill="#ef5350" d="M250 231h3V246h-3zM253 246h3V273h-3z"/>
<path fill="#26a69a" d="M256 244h2V273h-2zM258 244h3V245h-3zM261 221h2V244h-2zM263 219h3V221h-3z"/>
<path fill="#ef5350" d="M266 219h2V221h-2z"/>
<path fill="#26a69a" d="M268 171h3V221h-3z"/>
<path fill="#ef5350" d="M271 171h2V179h-2z"/>
<path fill="#26a69a" d="M273 175h3V179h-3z"/>
<path fill="#ef5350" d="M276 175h2V199h-2zM278 199h3V218h-3zM281 218h2V269h-2zM283 269h3V277h-3z"/>
<path fill="#26a69a" d="M286 266h2V277h-2z"/>
<path fill="#ef5350" d="M288 266h3V302h-3zM291 302h2V330h-2zM293 330h3V336h-3zM296 336h3V351h-3zM299 351h2V364h-2z"/>
<path fill="#26a69a" d="M301 298h3V364h-3zM304 285h2V298h-2z"/>
<path fill="#ef5350" d="M306 285h3V287h-3zM309 287h2V304h-2z"/>
<path fill="#26a69a" d="M311 248h3V304h-3zM314 248h2V249h-2z"/>
<path fill="#ef5350" d="M316 248h3V264h-3z"/>
<path fill="#26a69a" d="M319 256h2V264h-2z"/>
<path fill="#ef5350" d="M321 256h3V310h-3z"/>
<path fill="#26a69a" d="M324 251h2V310h-2z"/>
<path fill="#ef5350" d="M326 251h3V267h-3z"/>
<path fill="#26a69a" d="M329 253h2V267h-2zM331 232h3V253h-3z"/>
<path fill="#ef5350" d="M334 232h3V241h-3zM337 241h2V274h-2z"/>
<path fill="#26a69a" d="M339 261h3V274h-3z"/>
<path fill="#ef5350" d="M342 261h2V361h-2z"/>
<path fill="#26a69a" d="M344 356h3V361h-3zM347 353h2V356h-2z"/>
<path fill="#ef5350" d="M349 353h3V396h-3zM352 396h2V399h-2zM354 399h3V438h-3zM357 438h2V447h-2zM359 447h3V529h-3z"/>
<path fill="#26a69a" d="M362 478h2V529h-2z"/>
<path fill="#ef5350" d="M364 478h3V522h-3z"/>
<path fill="#26a69a" d="M367 520h2V522h-2z"/>
<path fill="#ef5350" d="M369 520h3V557h-3z"/>
<path fill="#26a69a" d="M372 501h2V557h-2z"/>
<path fill="#ef5350" d="M374 501h3V508h-3z"/>
<path fill="#26a69a" d="M377 495h3V508h-3z"/>
<path fill="#ef5350" d="M380 495h2V506h-2zM382 506h3V543h-3zM385 543h2V558h-2z"/>
<path fill="#26a69a" d="M387 543h3V558h-3zM390 522h2V543h-2z"/>
<path fill="#ef5350" d="M392 522h3V530h-3z"/>
<path fill="#26a69a" d="M395 518h2V530h-2zM397 496h3V518h-3z"/>
<path fill="#ef5350" d="M400 496h2V528h-2zM402 528h3V546h-3z"/>
<path fill="#26a69a" d="M405 542h2V546h-2z"/>
<path fill="#ef5350" d="M407 542h3V572h-3zM410 572h2V574h-2z"/>
<path fill="#26a69a" d="M412 520h3V574h-3z"/>
<path fill="#ef5350" d="M415 520h3V530h-3z"/>
<path fill="#26a69a" d="M418 521h2V530h-2z"/>
<path fill="#ef5350" d="M420 521h3V546h-3z"/>
<path fill="#26a69a" d="M423 498h2V546h-2zM425 478h3V498h-3z"/>
<path fill="#ef5350" d="M428 478h2V484h-2zM430 484h3V507h-3zM433 507h2V511h-2zM435 511h3V542h-3zM438 542h2V546h-2z"/>
<path fill="#26a69a" d="M440 544h3V546h-3z"/>
<path fill="#ef5350" d="M443 544h2V598h-2z"/>
<path fill="#26a69a" d="M445 585h3V598h-3zM448 570h2V585h-2zM450 557h3V570h-3z"/>
<path fill="#ef5350" d="M453 557h2V598h-2z"/>
<path fill="#26a69a" d="M455 588h3V598h-3zM458 556h3V588h-3z"/>
<path fill="#ef5350" d="M461 556h2V560h-2z"/>
<path fill="#26a69a" d="M463 540h3V560h-3z"/>
<path fill="#ef5350" d="M466 540h2V551h-2zM468 551h3V572h-3z"/>
<path fill="#26a69a" d="M471 568h2V572h-2zM473 556h3V568h-3zM476 549h2V556h-2z"/>
<path fill="#ef5350" d="M478 549h3V570h-3z"/>
<path fill="#26a69a" d="M481 563h2V570h-2z"/>
<path fill="#ef5350" d="M483 563h3V567h-3zM486 567h2V581h-2z"/>
<path fill="#26a69a" d="M488 568h3V581h-3z"/>
<path fill="#ef5350" d="M491 568h2V573h-2z"/>
<path fill="#26a69a" d="M493 562h3V573h-3z"/>
<path fill="#ef5350" d="M496 562h3V577h-3zM499 577h2V583h-2z"/>
<path fill="#26a69a" d="M501 581h3V583h-3z"/>
<path fill="#ef5350" d="M504 581h2V594h-2zM506 594h3V601h-3z"/>
<path fill="#26a69a" d="M509 599h2V601h-2zM511 595h3V599h-3z"/>
<path fill="#ef5350" d="M514 595h2V609h-2zM516 609h3V623h-3z"/>
<path fill="#26a69a" d="M519 591h2V623h-2zM521 588h3V591h-3zM524 571h2V588h-2zM526 562h3V571h-3zM529 546h2V562h-2zM531 521h3V546h-3zM534 492h2V521h-2zM536 485h3V492h-3zM539 485h3V486h-3zM542 455h2V485h-2z"/>
<path fill="#ef5350" d="M544 455h3V466h-3zM547 466h2V488h-2zM549 488h3V497h-3zM552 497h2V511h-2z"/>
<path fill="#26a69a" d="M554 489h3V511h-3zM557 473h2V489h-2zM559 447h3V473h-3zM562 423h2V447h-2z"/>
<path fill="#ef5350" d="M564 423h3V435h-3z"/>
<path fill="#26a69a" d="M567 401h2V435h-2z"/>
<path fill="#ef5350" d="M569 401h3V411h-3zM572 411h2V412h-2zM574 412h3V427h-3z"/>
<path fill="#26a69a" d="M577 380h3V427h-3z"/>
<path fill="#ef5350" d="M580 380h2V391h-2zM582 391h3V392h-3zM585 392h2V406h-2zM587 406h3V424h-3z"/>
<path fill="#26a69a" d="M590 423h2V424h-2zM592 395h3V423h-3zM595 360h2V395h-2z"/>
<path fill="#ef5350" d="M597 360h3V367h-3z"/>
<path fill="#26a69a" d="M600 362h2V367h-2zM602 358h3V362h-3z"/>
<path fill="#ef5350" d="M605 358h2V383h-2z"/>
<path fill="#26a69a" d="M607 366h3V383h-3z"/>
<path fill="#ef5350" d="M610 366h2V394h-2z"/>
<path fill="#26a69a" d="M612 364h3V394h-3z"/>
<path fill="#ef5350" d="M615 364h2V366h-2zM617 366h3V368h-3zM620 368h3V392h-3z"/>
<path fill="#26a69a" d="M623 391h2V392h-2zM625 367h3V391h-3zM628 361h2V367h-2zM630 352h3V361h-3z"/>
<path fill="#ef5350" d="M633 352h2V353h-2z"/>
<path fill="#26a69a" d="M635 329h3V352h-3zM638 316h2V329h-2z"/>
<path fill="#ef5350" d="M640 316h3V394h-3zM643 394h2V405h-2z"/>
<path fill="#26a69a" d="M645 400h3V405h-3z"/>
<path fill="#ef5350" d="M648 400h2V421h-2z"/>
<path fill="#26a69a" d="M650 416h3V421h-3zM653 405h2V416h-2z"/>
<path fill="#ef5350" d="M655 405h3V420h-3z"/>
<path fill="#26a69a" d="M658 390h3V420h-3zM661 376h2V390h-2z"/>
<path fill="#ef5350" d="M663 376h3V383h-3zM666 383h2V388h-2z"/>
<path fill="#26a69a" d="M668 374h3V388h-3z"/>
<path fill="#ef5350" d="M671 374h2V389h-2zM673 389h3V446h-3zM676 446h2V477h-2z"/>
<path fill="#26a69a" d="M678 438h3V477h-3zM681 420h2V438h-2z"/>
<path fill="#ef5350" d="M683 420h3V447h-3zM686 447h2V450h-2z"/>
<path fill="#26a69a" d="M688 443h3V450h-3z"/>
<path fill="#ef5350" d="M691 443h2V456h-2zM693 456h3V472h-3z"/>
<path fill="#26a69a" d="M696 466h3V472h-3zM699 435h2V466h-2zM701 376h3V435h-3z"/>
<path fill="#ef5350" d="M704 376h2V383h-2z"/>
<path fill="#26a69a" d="M706 376h3V383h-3zM709 362h2V376h-2zM711 332h3V362h-3zM714 280h2V332h-2z"/>
<path fill="#ef5350" d="M716 280h3V302h-3z"/>
<path fill="#26a69a" d="M719 299h2V302h-2zM721 285h3V299h-3z"/>
<path fill="#ef5350" d="M724 285h2V289h-2z"/>
<path fill="#26a69a" d="M726 252h3V289h-3z"/>
<path fill="#ef5350" d="M729 252h2V272h-2z"/>
<path fill="#26a69a" d="M731 253h3V272h-3z"/>
<path fill="#ef5350" d="M734 253h2V254h-2z"/>
<path fill="#26a69a" d="M736 196h3V254h-3z"/>
<path fill="#ef5350" d="M739 196h3V207h-3z"/>
<path fill="#26a69a" d="M742 198h2V207h-2zM744 191h3V198h-3zM747 161h2V191h-2zM749 138h3V161h-3z"/>
<path fill="#ef5350" d="M752 138h2V189h-2zM754 189h3V210h-3z"/>
<path fill="#26a69a" d="M757 201h2V210h-2z"/>
<path fill="#ef5350" d="M759 201h3V207h-3z"/>
<path fill="#26a69a" d="M762 177h2V207h-2z"/>
<path fill="#ef5350" d="M764 177h3V215h-3zM767 215h2V240h-2z"/>
<path fill="#26a69a" d="M769 211h3V240h-3zM772 188h2V211h-2z"/>
<path fill="#ef5350" d="M774 188h3V193h-3zM777 193h3V201h-3zM780 201h2V206h-2z"/>
<path fill="#26a69a" d="M782 175h3V206h-3z"/>
<path fill="#ef5350" d="M785 175h2V180h-2zM787 180h3V200h-3zM790 200h2V206h-2z"/>
<path fill="#26a69a" d="M792 198h3V206h-3zM795 174h2V198h-2zM797 117h3V174h-3z"/>
<path fill="#ef5350" d="M800 117h2V126h-2zM802 126h3V154h-3zM805 154h2V155h-2zM807 155h3V164h-3z"/>
<path fill="#26a69a" d="M810 160h2V164h-2zM812 145h3V160h-3z"/>
<path fill="#ef5350" d="M815 145h2V171h-2zM817 171h3V217h-3z"/>
<path fill="#26a69a" d="M820 214h3V217h-3z"/>
<path fill="#ef5350" d="M823 214h2V260h-2z"/>
<path fill="#26a69a" d="M825 243h3V260h-3zM828 221h2V243h-2z"/>
<path fill="#ef5350" d="M830 221h3V237h-3zM833 237h2V269h-2z"/>
<path fill="#26a69a" d="M835 251h3V269h-3z"/>
<path fill="#ef5350" d="M838 251h2V257h-2z"/>
<path fill="#26a69a" d="M840 232h3V257h-3z"/>
<path fill="#ef5350" d="M843 232h2V302h-2z"/>
<path fill="#26a69a" d="M845 288h3V302h-3zM848 254h2V288h-2zM850 247h3V254h-3z"/>
<path fill="#ef5350" d="M853 247h2V259h-2z"/>
<path fill="#26a69a" d="M855 256h3V259h-3z"/>
<path fill="#ef5350" d="M858 256h3V265h-3zM861 265h2V303h-2zM863 303h3V362h-3z"/>
<path fill="#26a69a" d="M866 360h2V362h-2zM868 344h3V360h-3zM871 344h2V345h-2z"/>
<path fill="#ef5350" d="M873 344h3V345h-3zM876 345h2V385h-2zM878 385h3V391h-3z"/>
<path fill="#26a69a" d="M881 360h2V391h-2zM883 351h3V360h-3z"/>
<path fill="#ef5350" d="M886 351h2V396h-2z"/>
<path fill="#26a69a" d="M888 373h3V396h-3zM891 367h2V373h-2z"/>
<path fill="#ef5350" d="M893 367h3V384h-3zM896 384h2V403h-2z"/>
<path fill="#26a69a" d="M898 393h3V403h-3z"/>
<path fill="#ef5350" d="M901 393h3V397h-3z"/>
<path fill="#26a69a" d="M904 393h2V397h-2zM906 366h3V393h-3z"/>
<path fill="#ef5350" d="M909 366h2V371h-2z"/>
<path fill="#26a69a" d="M911 340h3V371h-3z"/>
<path fill="#ef5350" d="M914 340h2V341h-2zM916 341h3V347h-3z"/>
<path fill="#26a69a" d="M919 341h2V347h-2z"/>
<path fill="#ef5350" d="M921 341h3V342h-3zM924 342h2V386h-2zM926 386h3V400h-3z"/>
<path fill="#26a69a" d="M929 391h2V400h-2z"/>
<path fill="#ef5350" d="M931 391h3V403h-3z"/>
<path fill="#26a69a" d="M934 382h2V403h-2z"/>
<path fill="#ef5350" d="M936 382h3V388h-3zM939 388h3V400h-3zM942 400h2V408h-2zM944 408h3V440h-3zM947 440h2V444h-2zM949 444h3V466h-3z"/>
<path fill="#26a69a" d="M952 463h2V466h-2zM954 461h3V463h-3z"/>
<path fill="#ef5350" d="M957 461h2V462h-2z"/>
<path fill="#26a69a" d="M959 449h3V461h-3zM962 433h2V449h-2z"/>
<path fill="#ef5350" d="M964 433h3V452h-3z"/>
<path fill="#26a69a" d="M967 444h2V452h-2zM969 444h3V445h-3z"/>
<path fill="#ef5350" d="M972 444h2V445h-2zM974 444h3V456h-3z"/>
<path fill="#26a69a" d="M977 454h2V456h-2z"/>
<path fill="#ef5350" d="M979 454h3V464h-3zM982 464h3V476h-3zM985 476h2V533h-2zM987 533h3V552h-3z"/>
<path fill="#26a69a" d="M990 535h2V552h-2zM992 530h3V535h-3zM995 526h2V530h-2z"/>
<path fill="#ef5350" d="M997 526h3V529h-3z"/>
<path fill="#26a69a" d="M1000 523h2V529h-2zM1002 515h3V523h-3zM1005 510h2V515h-2z"/>
<path fill="#ef5350" d="M1007 510h3V514h-3z"/>
<path fill="#26a69a" d="M1010 506h2V514h-2zM1012 502h3V506h-3z"/>
<path fill="#ef5350" d="M1015 502h2V527h-2z"/>
<path fill="#26a69a" d="M1017 521h3V527h-3zM1020 464h3V521h-3z"/>
<path fill="#ef5350" d="M1023 464h2V467h-2z"/>
<path fill="#26a69a" d="M1025 453h3V467h-3zM1028 434h2V453h-2zM1030 431h3V434h-3zM1033 427h2V431h-2z"/>
<path fill="#ef5350" d="M1035 427h3V438h-3zM1038 438h2V454h-2zM1040 454h3V456h-3zM1043 456h2V458h-2z"/>
<path fill="#26a69a" d="M1045 451h3V458h-3zM1048 425h2V451h-2z"/>
<path fill="#ef5350" d="M1050 425h3V433h-3zM1053 433h2V479h-2zM1055 479h3V486h-3z"/>
<path fill="#26a69a" d="M1058 484h2V486h-2z"/>
<path fill="#ef5350" d="M1060 484h3V507h-3zM1063 507h3V525h-3z"/>
<path fill="#26a69a" d="M1066 508h2V525h-2z"/>
<path fill="#ef5350" d="M1068 508h3V523h-3z"/>
<path fill="#26a69a" d="M1071 507h2V523h-2zM1073 495h3V507h-3z"/>
<path fill="#ef5350" d="M1076 495h2V497h-2zM1078 497h3V516h-3z"/>
<path fill="#26a69a" d="M1081 443h2V516h-2zM1083 426h3V443h-3z"/>
<path fill="#ef5350" d="M1086 426h2V433h-2zM1088 433h3V452h-3zM1091 452h2V497h-2z"/>
<path fill="#26a69a" d="M1093 493h3V497h-3z"/>
<path fill="#ef5350" d="M1096 493h2V507h-2zM1098 507h3V512h-3z"/>
<path fill="#26a69a" d="M1101 502h3V512h-3zM1104 459h2V502h-2z"/>
<path fill="#ef5350" d="M1106 459h3V494h-3zM1109 494h2V502h-2z"/>
<path fill="#26a69a" d="M1111 502h3V503h-3z"/>
<path fill="#ef5350" d="M1114 502h2V516h-2z"/>
<path fill="#26a69a" d="M1116 490h3V516h-3z"/>
<path fill="#ef5350" d="M1119 490h2V496h-2z"/>
<path fill="#26a69a" d="M1121 470h3V496h-3z"/>
<path fill="#ef5350" d="M1124 470h2V473h-2z"/>
<path fill="#26a69a" d="M1126 461h3V473h-3zM1129 456h2V461h-2z"/>
<path fill="#ef5350" d="M1131 456h3V470h-3zM1134 470h2V472h-2z"/>
<path fill="#26a69a" d="M1136 453h3V472h-3zM1139 446h3V453h-3zM1142 431h2V446h-2zM1144 428h3V431h-3zM1147 426h2V428h-2zM1149 394h3V426h-3zM1152 391h2V394h-2zM1154 386h3V391h-3z"/>
<path fill="#ef5350" d="M1157 386h2V391h-2zM1159 391h3V413h-3z"/>
<path fill="#26a69a" d="M1162 401h2V413h-2z"/>
<path fill="#ef5350" d="M1164 401h3V409h-3z"/>
<path fill="#26a69a" d="M1167 401h2V409h-2zM1169 398h3V401h-3z"/>
<path fill="#ef5350" d="M1172 398h2V412h-2zM1174 412h3V444h-3z"/>
<path fill="#26a69a" d="M1177 439h2V444h-2z"/>
<path fill="#ef5350" d="M1179 439h3V456h-3z"/>
<path fill="#26a69a" d="M1182 449h3V456h-3z"/>
<path fill="#ef5350" d="M1185 449h2V457h-2zM1187 457h3V493h-3z"/>
<path fill="#26a69a" d="M1190 484h2V493h-2zM1192 470h3V484h-3z"/>
<path fill="#ef5350" d="M1195 470h2V486h-2z"/>
<path fill="#26a69a" d="M1197 478h3V486h-3z"/>
<path fill="#ef5350" d="M1200 478h2V481h-2zM1202 481h3V490h-3z"/>
<path fill="#26a69a" d="M1205 475h2V490h-2zM1207 465h3V475h-3z"/>
<path fill="#ef5350" d="M1210 465h2V467h-2zM1212 467h3V479h-3zM1215 479h2V489h-2zM1217 489h3V494h-3z"/>
<path fill="#26a69a" d="M1220 493h3V494h-3zM1223 479h2V493h-2z"/>
<path fill="#ef5350" d="M1225 479h3V511h-3z"/>
<path fill="#26a69a" d="M1228 496h2V511h-2zM1230 489h3V496h-3z"/>
<path fill="#ef5350" d="M1233 489h2V504h-2zM1235 504h3V517h-3z"/>
<path fill="#26a69a" d="M1238 506h2V517h-2zM1240 506h3V507h-3z"/>
<path fill="#ef5350" d="M1243 506h2V516h-2z"/>
<path fill="#26a69a" d="M1245 489h3V516h-3z"/>
<path fill="#ef5350" d="M1248 489h2V532h-2zM1250 532h3V539h-3zM1253 539h2V546h-2zM1255 546h3V565h-3zM1258 565h2V618h-2z"/>
<path fill="#26a69a" d="M1260 605h3V618h-3z"/>
<path fill="#ef5350" d="M1263 605h3V632h-3zM1266 632h2V633h-2z"/>
<path fill="#26a69a" d="M1268 629h3V632h-3zM1271 618h2V629h-2zM1273 601h3V618h-3z"/>
<path fill="#ef5350" d="M1276 601h2V622h-2z"/>
<path fill="#26a69a" d="M1278 613h3V622h-3z"/>
<path fill="#ef5350" d="M1281 613h2V637h-2z"/>
<path fill="#26a69a" d="M1283 615h3V637h-3z"/>
<path fill="#ef5350" d="M1286 615h2V630h-2z"/>
<path fill="#26a69a" d="M1288 627h3V630h-3zM1291 615h2V627h-2z"/>
<path fill="#ef5350" d="M1293 615h3V632h-3z"/>
<path fill="#26a69a" d="M1296 627h2V632h-2z"/>
<line x1="13" y1="627.5" x2="1306" y2="627.5" stroke="#26a69a" stroke-width="1" stroke-dasharray="1 2"/>
</g>
<g fill="#e0e3eb" fill-opacity="0.5"><rect x="9" y="26" width="1364" height="2"/><rect x="9" y="765" width="1364" height="2"/><rect x="9" y="26" width="2" height="741"/><rect x="1371" y="26" width="2" height="741"/></g>
<g fill="#131722" shape-rendering="geometricPrecision"><path d="M10.2 778H17.8V787.9H13.9V781.6H10.2z"/><circle cx="21" cy="780" r="1.7"/><path d="M23.8 778H29L25.9 787.9H21.2z"/></g>
</svg>
<div class="t" style="left:10.4px;top:9px;font-size:12.5px;color:#131722;font-weight:400;transform:scaleX(0.9530);">Published on TradingView.com, May 24, 2022 07:15 UTC</div>
<div class="t" style="left:18.4px;top:36px;font-size:12.5px;color:#131722;font-weight:400;transform:scaleX(0.9471);">Bitcoin / U.S. Dollar, 1D, BITSTAMP</div>
<div class="t" style="left:215.9px;top:36px;font-size:12.5px;color:#131722;font-weight:400;transform:scaleX(0.7602);">O</div>
<div class="t" style="left:224.9px;top:36px;font-size:12.5px;color:#26a69a;font-weight:400;transform:scaleX(0.8880);">29081.76</div>
<div class="t" style="left:279.7px;top:36px;font-size:12.5px;color:#131722;font-weight:400;transform:scaleX(0.7308);">H</div>
<div class="t" style="left:286.8px;top:36px;font-size:12.5px;color:#26a69a;font-weight:400;transform:scaleX(0.8841);">29405.38</div>
<div class="t" style="left:341.6px;top:36px;font-size:12.5px;color:#131722;font-weight:400;transform:scaleX(0.7191);">L</div>
<div class="t" style="left:347.3px;top:36px;font-size:12.5px;color:#26a69a;font-weight:400;transform:scaleX(0.8746);">29030.59</div>
<div class="t" style="left:401.3px;top:36px;font-size:12.5px;color:#131722;font-weight:400;transform:scaleX(0.7308);">C</div>
<div class="t" style="left:408.5px;top:36px;font-size:12.5px;color:#26a69a;font-weight:400;transform:scaleX(0.8746);">29393.04</div>
<div class="t" style="left:462.4px;top:36px;font-size:12.5px;color:#26a69a;font-weight:400;transform:scaleX(0.8922);">+311.28</div>
<div class="t" style="left:506.9px;top:36px;font-size:12.5px;color:#26a69a;font-weight:400;transform:scaleX(0.8223);">(+1.07%)</div>
<div class="t" style="left:18.4px;top:53px;font-size:12.5px;color:#131722;font-weight:400;transform:scaleX(0.8740);">Vol</div>
<div class="t" style="left:41.8px;top:53px;font-size:12.5px;color:#26a69a;font-weight:400;transform:scaleX(0.8821);">348</div>
<div class="t" style="left:1314.2px;top:35px;font-size:12.5px;color:#131722;font-weight:400;transform:scaleX(0.8028);">USD</div>
<div class="t" style="left:79.4px;top:746px;font-size:12.5px;color:#131722;font-weight:400;transform:scaleX(0.8934);">Feb</div>
<div class="t" style="left:228.9px;top:746px;font-size:12.5px;color:#131722;font-weight:400;transform:scaleX(0.9664);">Apr</div>
<div class="t" style="left:383px;top:746px;font-size:12.5px;color:#131722;font-weight:400;transform:scaleX(0.9476);">Jun</div>
<div class="t" style="left:537.2px;top:746px;font-size:12.5px;color:#131722;font-weight:400;transform:scaleX(0.8899);">Aug</div>
<div class="t" style="left:691.3px;top:746px;font-size:12.5px;color:#131722;font-weight:400;transform:scaleX(1.0384);">Oct</div>
<div class="t" style="left:795px;top:746px;font-size:12.5px;color:#131722;font-weight:400;transform:scaleX(0.8342);">8</div>
<div class="t" style="left:921px;top:746px;font-size:12.5px;color:#131722;font-weight:700;transform:scaleX(0.9708);">2022</div>
<div class="t" style="left:1073.4px;top:746px;font-size:12.5px;color:#131722;font-weight:400;transform:scaleX(0.9382);">Mar</div>
<div class="t" style="left:1227px;top:746px;font-size:12.5px;color:#131722;font-weight:400;transform:scaleX(0.9397);">May</div>
<div class="t" style="left:33px;top:776.56px;font-size:13.4px;color:#131722;font-weight:400;transform:scaleX(0.9730);">TradingView</div>
<div class="t" style="left:1316px;top:713px;font-size:12.5px;color:#131722;font-weight:400;transform:scaleX(0.8822);">22500.00</div>
<div class="t" style="left:1316px;top:680px;font-size:12.5px;color:#131722;font-weight:400;transform:scaleX(0.8822);">25000.00</div>
<div class="t" style="left:1316px;top:646px;font-size:12.5px;color:#131722;font-weight:400;transform:scaleX(0.8822);">27500.00</div>
<div class="t" style="left:1316px;top:613px;font-size:12.5px;color:#131722;font-weight:400;transform:scaleX(0.8822);">30000.00</div>
<div class="t" style="left:1316px;top:580px;font-size:12.5px;color:#131722;font-weight:400;transform:scaleX(0.8822);">32500.00</div>
<div class="t" style="left:1316px;top:546px;font-size:12.5px;color:#131722;font-weight:400;transform:scaleX(0.8822);">35000.00</div>
<div class="t" style="left:1316px;top:513px;font-size:12.5px;color:#131722;font-weight:400;transform:scaleX(0.8822);">37500.00</div>
<div class="t" style="left:1316px;top:480px;font-size:12.5px;color:#131722;font-weight:400;transform:scaleX(0.8822);">40000.00</div>
<div class="t" style="left:1316px;top:446px;font-size:12.5px;color:#131722;font-weight:400;transform:scaleX(0.8822);">42500.00</div>
<div class="t" style="left:1316px;top:413px;font-size:12.5px;color:#131722;font-weight:400;transform:scaleX(0.8822);">45000.00</div>
<div class="t" style="left:1316px;top:380px;font-size:12.5px;color:#131722;font-weight:400;transform:scaleX(0.8822);">47500.00</div>
<div class="t" style="left:1316px;top:346px;font-size:12.5px;color:#131722;font-weight:400;transform:scaleX(0.8822);">50000.00</div>
<div class="t" style="left:1316px;top:313px;font-size:12.5px;color:#131722;font-weight:400;transform:scaleX(0.8822);">52500.00</div>
<div class="t" style="left:1316px;top:279px;font-size:12.5px;color:#131722;font-weight:400;transform:scaleX(0.8822);">55000.00</div>
<div class="t" style="left:1316px;top:246px;font-size:12.5px;color:#131722;font-weight:400;transform:scaleX(0.8822);">57500.00</div>
<div class="t" style="left:1316px;top:213px;font-size:12.5px;color:#131722;font-weight:400;transform:scaleX(0.8822);">60000.00</div>
<div class="t" style="left:1316px;top:179px;font-size:12.5px;color:#131722;font-weight:400;transform:scaleX(0.8822);">62500.00</div>
<div class="t" style="left:1316px;top:146px;font-size:12.5px;color:#131722;font-weight:400;transform:scaleX(0.8822);">65000.00</div>
<div class="t" style="left:1316px;top:113px;font-size:12.5px;color:#131722;font-weight:400;transform:scaleX(0.8822);">67500.00</div>
<div class="t" style="left:1316px;top:79px;font-size:12.5px;color:#131722;font-weight:400;transform:scaleX(0.8822);">70000.00</div>
<div style="position:absolute;left:1306px;top:50px;width:64px;height:12px;overflow:hidden;-webkit-mask-image:linear-gradient(to bottom,rgba(0,0,0,0) 0,rgba(0,0,0,0.62) 7px);mask-image:linear-gradient(to bottom,rgba(0,0,0,0) 0,rgba(0,0,0,0.62) 7px)"><div class="t" style="left:10px;top:-4px;font-size:12.5px;color:#131722;font-weight:400;transform:scaleX(0.8822);">72500.00</div></div>
<div class="box" style="left:1306px;top:619px;width:62px;height:31px;border-radius:0 2px 2px 0"><div class="t" style="left:9.9px;top:3px;font-size:12.5px;color:#fff;font-weight:400;transform:scaleX(0.8861);">29393.04</div><div class="t" style="left:11px;top:17px;font-size:12.5px;color:rgba(255,255,255,0.8);font-weight:400;transform:scaleX(0.8773);">16:44:03</div></div>
<div class="box" style="left:1306px;top:727px;width:34px;height:11px;border-radius:0 2px 0 0"><div class="t" style="left:11.1px;top:4px;font-size:12.5px;color:#fff;font-weight:400;transform:scaleX(0.8150);">348</div></div>
</body></html>
